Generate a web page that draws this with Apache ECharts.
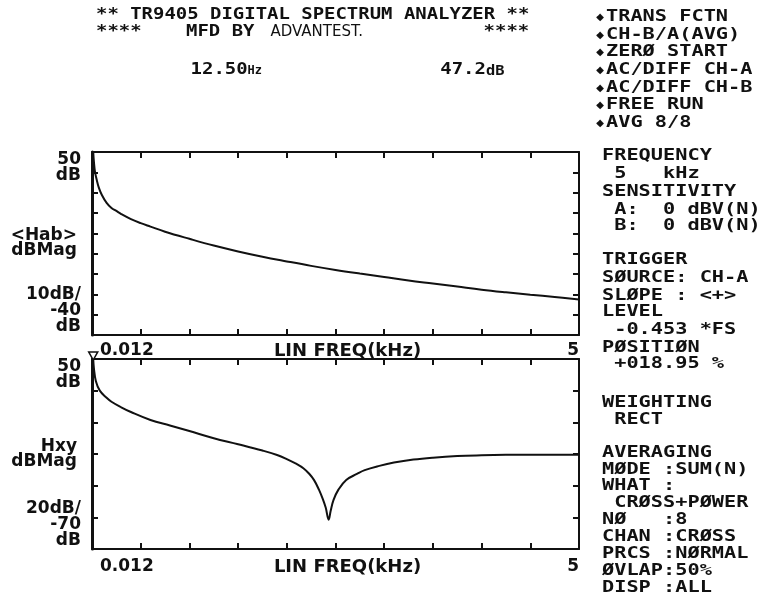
<!DOCTYPE html>
<html>
<head>
<meta charset="utf-8">
<script src="https://cdn.jsdelivr.net/npm/echarts@6/dist/echarts.min.js"></script>
<style>
html,body{margin:0;padding:0;background:#ffffff;}
#chart{width:766px;height:603px;}
</style>
</head>
<body>
<div id="chart"></div>
<script>
// ---------------- data ----------------
// <Hab> averaged transfer function magnitude (dB) vs frequency (kHz)
const habFreq = [0.0125,0.02,0.03,0.05,0.07,0.1,0.15,0.2,0.25,0.3,0.4,0.5,0.6,0.75,1.0,1.25,1.5,1.75,2.0,2.25,2.5,2.75,3.0,3.25,3.5,3.75,4.0,4.25,4.5,4.75,5.0];
const habDb   = [50,45,40.5,36,32.5,29,25,22.5,21,19.5,17,15,13.3,10.8,7.3,4.0,1.1,-1.5,-3.8,-6,-8,-9.8,-11.5,-13.2,-14.7,-16.2,-17.7,-19,-20.2,-21.3,-22.5];

// Hxy cross transfer magnitude (dB) vs frequency (kHz)
const hxyFreq = [0.0125,0.02,0.04,0.08,0.15,0.2,0.3,0.4,0.6,0.8,1.0,1.25,1.5,1.75,1.9,2.0,2.1,2.17,2.23,2.28,2.33,2.37,2.40,2.43,2.45,2.48,2.53,2.61,2.72,2.8,2.95,3.1,3.3,3.5,3.75,4.0,4.25,4.5,4.75,5.0];
const hxyDb   = [50,44,36,30,25.5,23,19.5,16.5,11.5,8,4.5,0,-3.8,-7.8,-10.6,-13.2,-16.3,-19,-22.5,-26.5,-32.5,-38.5,-44,-51.5,-46,-39,-32.5,-26.4,-22.6,-20.2,-17.5,-15.4,-13.5,-12.3,-11.3,-10.8,-10.5,-10.4,-10.4,-10.5];

// axis ranges / ticks
const habRange = [-40, 50];
const hxyRange = [-70, 50];
const hxyTickValues = [-50, -30, -10, 10, 30];
const freqRange = [0, 5];

// tick labels and axis names
const xStartLabel = '0.012';
const xEndLabel = '5';
const xAxisName = 'LIN FREQ(kHz)';
const habTopLabel = '50\ndB';
const habBottomLabel = '10dB/\n-40\ndB';
const habAxisName = '<Hab>\ndBMag';
const hxyTopLabel = '50\ndB';
const hxyBottomLabel = '20dB/\n-70\ndB';
const hxyAxisName = 'Hxy\ndBMag';

// header / panel texts
const titleLine = '** TR9405 DIGITAL SPECTRUM ANALYZER **';
const subtitleParts = ['****', 'MFD BY', 'ADVANTEST.', '****'];
const cursorFreq = ['12.50', 'Hz'];
const cursorLevel = ['47.2', 'dB'];
const statusLines = ['TRANS FCTN','CH-B/A(AVG)','ZERØ START','AC/DIFF CH-A','AC/DIFF CH-B','FREE RUN','AVG 8/8'];
const setupLines = ['FREQUENCY',' 5   kHz','SENSITIVITY',' A:  0 dBV(N)',' B:  0 dBV(N)',
  'TRIGGER','SØURCE: CH-A','SLØPE : <+>','LEVEL',' -0.453 *FS','PØSITIØN',' +018.95 %',
  'WEIGHTING',' RECT',
  'AVERAGING','MØDE :SUM(N)','WHAT :',' CRØSS+PØWER','NØ   :8','CHAN :CRØSS','PRCS :NØRMAL','ØVLAP:50%','DISP :ALL'];

// ---------------- layout ----------------
const setupY = [156,174,192,210,226,260,278,296,312,330,348,364,403,420,453,470,486,503,520,537,554,571,588];
const statusY = [17,35,52,70,88,105,123];
const INK = '#111111';
const MONO = '"DejaVu Sans Mono", monospace';
const PITCH = 12.2;          // right panel character pitch
const TPITCH = 11.4;         // header character pitch
const BASE_W = 9.63;         // DejaVu Sans Mono 16px advance

function txt(x, y, s, opt) {
  opt = opt || {};
  return {
    type: 'text', x: x, y: y, scaleX: opt.scaleX || PITCH / BASE_W, silent: true,
    style: {
      text: s, fill: INK,
      font: opt.font || ('bold 16px ' + MONO),
      textAlign: 'left', textVerticalAlign: 'middle',
      align: 'left', verticalAlign: 'middle'
    }
  };
}

const graphics = [];
const TX = 96;
const TS = TPITCH / BASE_W;
graphics.push(txt(TX, 15, titleLine, {scaleX: TS}));
graphics.push(txt(TX, 32, subtitleParts[0], {scaleX: TS}));
graphics.push(txt(TX + 7.9 * TPITCH, 32, subtitleParts[1], {scaleX: TS}));
graphics.push(txt(TX + 15.3 * TPITCH, 32, subtitleParts[2], {font: '15px "DejaVu Sans"', scaleX: 1.0}));
graphics.push(txt(TX + 34 * TPITCH, 32, subtitleParts[3], {scaleX: TS}));
graphics.push(txt(TX + 8.3 * TPITCH, 70, cursorFreq[0], {scaleX: TS}));
graphics.push(txt(TX + 13.3 * TPITCH, 71, cursorFreq[1], {font: 'bold 12px ' + MONO, scaleX: 1.0}));
graphics.push(txt(TX + 30.2 * TPITCH, 70, cursorLevel[0], {scaleX: TS}));
graphics.push(txt(TX + 34.2 * TPITCH, 71, cursorLevel[1], {font: 'bold 14px ' + MONO, scaleX: 1.1}));

statusLines.forEach(function (s, i) {
  graphics.push({type: 'text', x: 600, y: statusY[i], silent: true,
    style: {text: '◆', fill: INK, font: '10px "DejaVu Sans"', textAlign: 'center', textVerticalAlign: 'middle', align: 'center', verticalAlign: 'middle'}});
  graphics.push(txt(606, statusY[i], s));
});
setupLines.forEach(function (s, i) {
  graphics.push(txt(602, setupY[i], s));
});

// ---------------- chart ----------------
const AXIS_FONT = {fontFamily: '"DejaVu Sans"', fontWeight: 'bold', fontSize: 17, color: INK};

function xAxes(gi, labelMargin, nameGap) {
  return [{
    type: 'value', gridIndex: gi, min: freqRange[0], max: freqRange[1], interval: 0.5, position: 'bottom',
    axisLine: {show: true, onZero: false, lineStyle: {color: INK, width: 2}},
    axisTick: {show: true, inside: true, length: 6, lineStyle: {color: INK, width: 2}},
    splitLine: {show: false},
    axisLabel: Object.assign({}, AXIS_FONT, {
      margin: labelMargin, showMinLabel: true, showMaxLabel: true, hideOverlap: false,
      alignMinLabel: 'left', alignMaxLabel: 'right', padding: [0, 0, 0, 8],
      formatter: function (v) { return v === freqRange[0] ? xStartLabel : (v === freqRange[1] ? xEndLabel : ''); }
    }),
    name: xAxisName, nameLocation: 'middle', nameGap: nameGap, nameMoveOverlap: false,
    nameTextStyle: Object.assign({}, AXIS_FONT, {fontSize: 18, padding: [0, 0, 0, 24]})
  }, {
    type: 'value', gridIndex: gi, min: freqRange[0], max: freqRange[1], interval: 0.5, position: 'top',
    axisLine: {show: true, onZero: false, lineStyle: {color: INK, width: 2}},
    axisTick: {show: true, inside: true, length: 6, lineStyle: {color: INK, width: 2}},
    splitLine: {show: false}, axisLabel: {show: false}
  }];
}

function yAxes(gi, range, tickOpt, topLabel, bottomLabel, name) {
  const left = {
    type: 'value', gridIndex: gi, min: range[0], max: range[1], position: 'left',
    axisLine: {show: true, onZero: false, lineStyle: {color: INK, width: 3}},
    axisTick: Object.assign({show: true, inside: true, length: 6, lineStyle: {color: INK, width: 2}}, tickOpt.tick),
    splitLine: {show: false},
    axisLabel: Object.assign({}, AXIS_FONT, {
      margin: 11, lineHeight: 16, showMinLabel: true, showMaxLabel: true,
      verticalAlignMaxLabel: 'top', verticalAlignMinLabel: 'bottom',
      formatter: function (v) { return v === range[1] ? topLabel : (v === range[0] ? bottomLabel : ''); }
    }, tickOpt.label),
    name: name, nameLocation: 'middle', nameRotate: 0, nameGap: 15, nameMoveOverlap: false,
    nameTextStyle: Object.assign({}, AXIS_FONT, {align: 'right', lineHeight: 15, padding: [10, 0, 0, 0]})
  };
  const right = {
    type: 'value', gridIndex: gi, min: range[0], max: range[1], position: 'right',
    axisLine: {show: true, onZero: false, lineStyle: {color: INK, width: 2}},
    axisTick: Object.assign({show: true, inside: true, length: 6, lineStyle: {color: INK, width: 2}}, tickOpt.tick),
    splitLine: {show: false}, axisLabel: {show: false}
  };
  if (tickOpt.interval) { left.interval = tickOpt.interval; right.interval = tickOpt.interval; }
  return [left, right];
}

const option = {
  backgroundColor: '#ffffff',
  animation: false,
  grid: [
    {left: 92, top: 152, width: 487, height: 183, containLabel: false, outerBoundsMode: 'none'},
    {left: 92, top: 359, width: 487, height: 190, containLabel: false, outerBoundsMode: 'none'}
  ],
  xAxis: [].concat(xAxes(0, 7, 7), xAxes(1, 9, 9)),
  yAxis: [].concat(
    yAxes(0, habRange, {interval: 10}, habTopLabel, habBottomLabel, habAxisName),
    yAxes(1, hxyRange, {tick: {customValues: hxyTickValues}, label: {customValues: [hxyRange[0], hxyRange[1]]}}, hxyTopLabel, hxyBottomLabel, hxyAxisName)
  ),
  series: [{
    type: 'line', xAxisIndex: 0, yAxisIndex: 0,
    data: habFreq.map(function (f, i) { return [f, habDb[i]]; }),
    showSymbol: false, smooth: 0.4,
    lineStyle: {color: INK, width: 2}
  }, {
    type: 'line', xAxisIndex: 2, yAxisIndex: 2,
    data: hxyFreq.map(function (f, i) { return [f, hxyDb[i]]; }),
    showSymbol: false, smooth: 0.4,
    lineStyle: {color: INK, width: 2},
    markPoint: {
      symbol: 'triangle', symbolRotate: 180, symbolSize: [9, 8], symbolOffset: [0, -3],
      itemStyle: {color: '#ffffff', borderColor: INK, borderWidth: 1.5},
      label: {show: false},
      data: [{coord: [hxyFreq[0], hxyDb[0]]}]
    }
  }],
  graphic: graphics
};

const chart = echarts.init(document.getElementById('chart'), null, {renderer: 'canvas'});
chart.setOption(option);
</script>
</body>
</html>
